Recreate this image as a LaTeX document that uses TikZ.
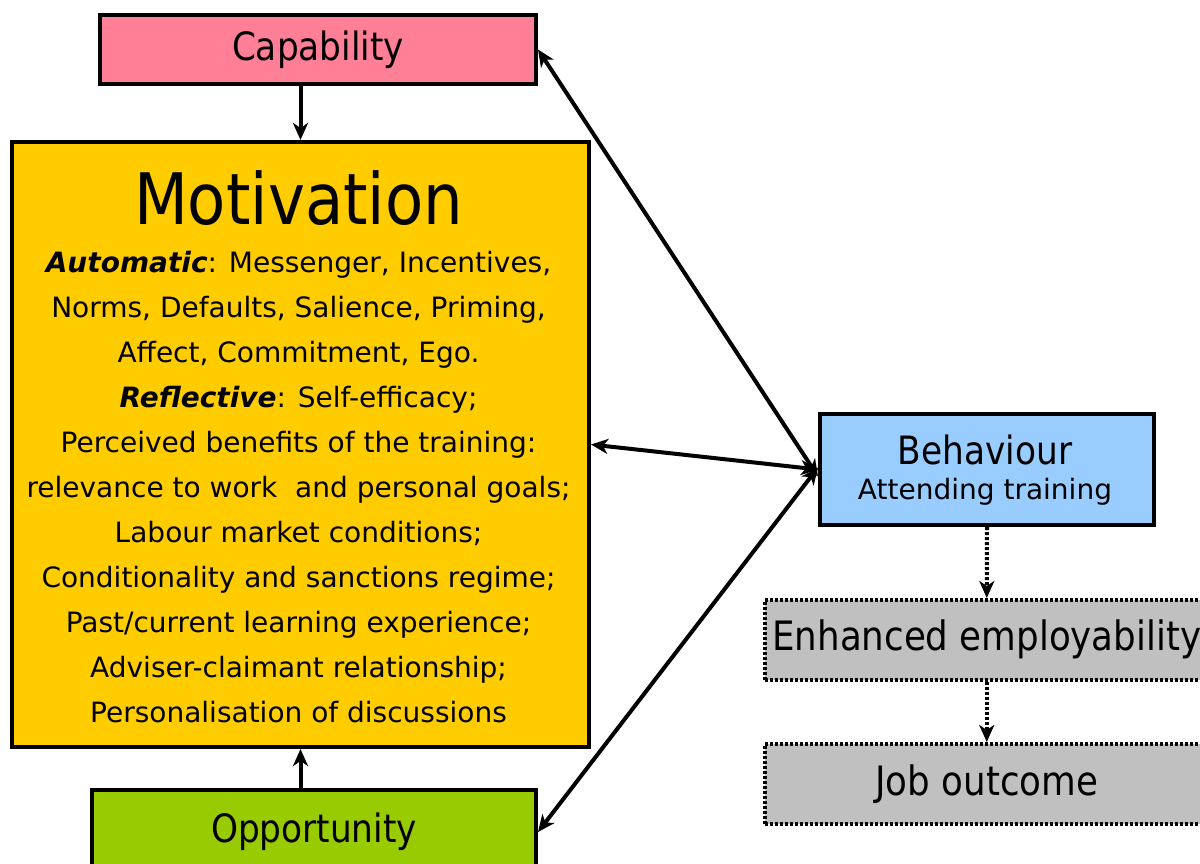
\documentclass[tikz,border=0pt]{standalone}
\usepackage{fontspec}
\setmainfont{DejaVu Sans}[FakeStretch=0.88]
\newfontfamily\bodyfont{DejaVu Sans}
\usetikzlibrary{arrows.meta}
\definecolor{capcol}{RGB}{255,128,150}
\definecolor{motcol}{RGB}{255,204,0}
\definecolor{oppcol}{RGB}{153,204,0}
\definecolor{behcol}{RGB}{153,204,255}
\definecolor{outcol}{RGB}{192,192,192}
\begin{document}
\begin{tikzpicture}[x=1pt,y=-1pt,
  box/.style={draw=black,line width=4pt,inner sep=0pt,anchor=north west,align=center},
  dotbox/.style={box,line width=3.5pt,dash pattern=on 3pt off 2pt},
  conn/.style={line width=4pt,-{Stealth[length=17pt,width=15pt,inset=5pt]}},
  biconn/.style={line width=4pt,{Stealth[length=17pt,width=15pt,inset=5pt]}-{Stealth[length=17pt,width=15pt,inset=5pt]}},
  dotconn/.style={line width=4pt,dash pattern=on 3pt off 2pt,-{Stealth[length=17pt,width=15pt,inset=5pt]}},
  bigfont/.style={font=\fontsize{39}{45}\selectfont}
]
\useasboundingbox (0,0) rectangle (1200,863);
\node[box,fill=capcol,minimum width=436pt,minimum height=69pt,bigfont] (cap) at (98,13) {Capability};
\node[box,fill=motcol,minimum width=577pt,minimum height=605pt] (mot) at (10,140) {};
\node[font=\fontsize{71}{80}\selectfont] (mottitle) at (298.5,198) {Motivation};
\node[font=\bodyfont\fontsize{28}{45}\selectfont,align=center,inner sep=0pt] (motbody) at (298.5,487)
  {\textbf{\textit{Automatic}}: Messenger, Incentives,\\
   Norms, Defaults, Salience, Priming,\\
   Affect, Commitment, Ego.\\
   \textbf{\textit{Reflective}}: Self-efficacy;\\
   Perceived benefits of the training:\\
   relevance to work\ \ and personal goals;\\
   Labour market conditions;\\
   Conditionality and sanctions regime;\\
   Past/current learning experience;\\
   Adviser-claimant relationship;\\
   Personalisation of discussions};
\node[box,fill=oppcol,minimum width=444pt,minimum height=84pt,bigfont] (opp) at (90,788) {Opportunity};
\node[box,fill=behcol,minimum width=334pt,minimum height=111pt] (beh) at (818,412) {};
\node[bigfont] (behtitle) at (985,450) {Behaviour};
\node[font=\bodyfont\fontsize{28}{32}\selectfont] (behsub) at (985,492) {Attending training};
\node[dotbox,fill=outcol,minimum width=444pt,minimum height=80pt,font=\fontsize{40.5}{45}\selectfont] (enh) at (763,598) {Enhanced employability};
\node[dotbox,fill=outcol,minimum width=444pt,minimum height=80pt,font=\fontsize{40.5}{45}\selectfont] (job) at (763,742) {Job outcome};
\draw[conn] (cap.south -| mot.north) -- (mot.north);
\draw[conn] (opp.north -| mot.south) -- (mot.south);
\draw[biconn] (cap.east) -- ([yshift=-7pt]beh.west);
\draw[biconn] (mot.east) -- (beh.west);
\draw[biconn] (opp.east) -- ([yshift=2pt]beh.west);
\draw[dotconn] (beh.south) -- (enh.north);
\draw[dotconn] (enh.south) -- (job.north);
\end{tikzpicture}
\end{document}
